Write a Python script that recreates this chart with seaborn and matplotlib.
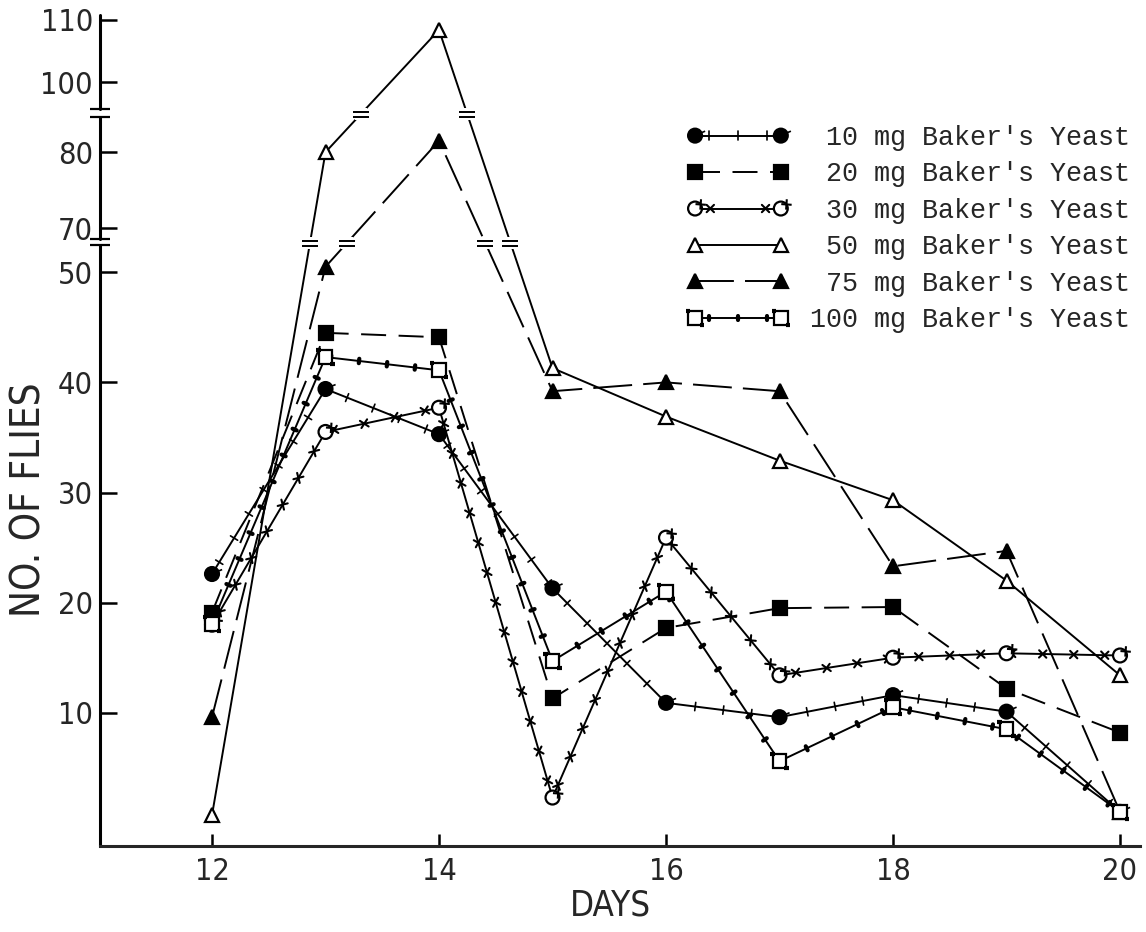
import numpy as np
import pandas as pd
import seaborn as sns
import matplotlib.pyplot as plt
import matplotlib.patheffects as pe
from matplotlib.path import Path

days = [12, 13, 14, 15, 16, 17, 18, 19, 20]
yeast_10 = [22.6, 39.4, 35.3, 21.3, 10.9, 9.6, 11.6, 10.1, 1.0]
yeast_20 = [19.1, 44.5, 44.1, 11.3, 17.7, 19.5, 19.6, 12.2, 8.2]
yeast_30 = [18.0, 35.5, 37.7, 2.3, 25.9, 13.4, 15.0, 15.4, 15.2]
yeast_50 = [0.7, 80.0, 108.4, 41.3, 36.9, 32.9, 29.3, 22.0, 13.4]
yeast_75 = [9.6, 50.5, 81.5, 39.2, 40.0, 39.2, 23.3, 24.7, 1.0]
yeast_100 = [18.1, 42.3, 41.1, 14.7, 21.0, 5.6, 10.5, 8.5, 1.0]
labels = [" 10 mg Baker's Yeast", " 20 mg Baker's Yeast", " 30 mg Baker's Yeast",
          " 50 mg Baker's Yeast", " 75 mg Baker's Yeast", "100 mg Baker's Yeast"]
x_ticks = [12, 14, 16, 18, 20]
y_ticks = [10, 20, 30, 40, 50, 70, 80, 100, 110]

sns.set_style("ticks")
plt.rcParams['font.family'] = ['DejaVu Sans']
plt.rcParams['font.stretch'] = 'condensed'
plt.rcParams['lines.scale_dashes'] = False

# broken y axis: piecewise linear scale (value -> pixel row in the scan)
knot_v = np.array([-1000, -2.1, 52.5, 68.4, 85.0, 95.0, 110.8, 1000])
knot_p = np.array([822 + 11000, 845.1, 244.5, 240.2, 114.0, 113.0, 15.0, 20 - 6.2 * 890])


def forward(v):
    return -np.interp(v, knot_v, knot_p)


def inverse(p):
    return np.interp(p, -knot_p, knot_v)


fig = plt.figure(figsize=(11.46, 9.32), dpi=100)
ax = fig.add_axes([100 / 1146, 1 - 846 / 932, 1040 / 1146, 831 / 932])
ax.set_yscale('function', functions=(forward, inverse))

# small marks along some of the lines
ticks_10 = [pe.Normal(),
            pe.TickedStroke(spacing=20, angle=90, length=0.15, linewidth=1.2),
            pe.TickedStroke(spacing=20, angle=-90, length=0.15, linewidth=1.2)]
ticks_30 = [pe.Normal()] + [pe.TickedStroke(spacing=22, angle=a, length=0.17, linewidth=1.5)
                            for a in (45, -135, 135, -45)]
dots_100 = [pe.Normal(),
            pe.TickedStroke(spacing=20, angle=90, length=0.08, linewidth=3),
            pe.TickedStroke(spacing=20, angle=-90, length=0.08, linewidth=3)]

series = [
    (yeast_10, dict(marker='o', markerfacecolor='black', linestyle='-', path_effects=ticks_10)),
    (yeast_20, dict(marker='s', markerfacecolor='black', linestyle=(0, (18, 9)))),
    (yeast_30, dict(marker='o', markerfacecolor='white', linestyle='-', path_effects=ticks_30)),
    (yeast_50, dict(marker='^', markerfacecolor='white', linestyle='-')),
    (yeast_75, dict(marker='^', markerfacecolor='black', linestyle=(0, (28, 8)))),
    (yeast_100, dict(marker='s', markerfacecolor='white', linestyle='-', path_effects=dots_100)),
]

for (vals, style), lab in zip(series, labels):
    df = pd.DataFrame({'Day': days, 'Flies': vals})
    sns.lineplot(x='Day', y='Flies', data=df, ax=ax, color='black', linewidth=1.4,
                 markersize=10, markeredgecolor='black', markeredgewidth=1.6,
                 label=lab, **style)

ax.set_xlim(12 - 112 / 113.5, 12 + 928 / 113.5)
ax.set_ylim(-2.1, 110.8)
ax.set_xticks(x_ticks)
ax.set_yticks(y_ticks)
ax.set_xlabel('')
ax.set_ylabel('')
ax.tick_params(axis='both', direction='in', labelsize=22, width=1.8, color='black')
ax.tick_params(axis='x', length=9, pad=8)
ax.tick_params(axis='y', length=12, pad=5)

sns.despine(ax=ax, top=True, right=True, left=True)
ax.spines['bottom'].set_linewidth(2.2)

# break symbol: two short bars
brk = Path([(-1, 0.3), (1, 0.3), (-1, -0.3), (1, -0.3)],
           [Path.MOVETO, Path.LINETO, Path.MOVETO, Path.LINETO])

# left axis drawn in pieces, with the breaks
ytr = ax.get_yaxis_transform()
for lo, hi in [(-2.1, 52.6), (68.6, 84.6), (95.6, 110.8)]:
    ax.plot([0, 0], [lo, hi], transform=ytr, color='black', linewidth=2.2, clip_on=False)
    for end in (lo, hi):
        if -2 < end < 110:
            ax.plot([0], [end], transform=ytr, marker='_', markersize=14, markeredgewidth=1.6,
                    color='black', clip_on=False)

# break marks where the 50 and 75 mg lines cross the gaps of the axis
for vals in (yeast_50, yeast_75):
    for i in range(len(days) - 1):
        y0, y1 = vals[i], vals[i + 1]
        for c in (60.0, 90.0):
            if min(y0, y1) < c < max(y0, y1):
                t = (forward(c) - forward(y0)) / (forward(y1) - forward(y0))
                xc = days[i] + t * (days[i + 1] - days[i])
                ax.plot([xc], [c], marker='s', markersize=8, color='white',
                        markeredgewidth=0, zorder=5)
                ax.plot([xc], [c], marker=brk, markersize=12, markeredgewidth=1.4,
                        color='black', zorder=6)

fig.text(30 / 1146, 1 - 500 / 932, 'NO. OF FLIES', rotation=90, fontsize=29,
         ha='center', va='center')
fig.text(610 / 1146, 1 - 906 / 932, 'DAYS', fontsize=25, ha='center', va='center')

leg = ax.legend(loc='upper left', bbox_to_anchor=(687 / 1146, 1 - 125 / 932),
                bbox_transform=fig.transFigure, frameon=False, numpoints=2,
                handlelength=3.8, handletextpad=0.8, labelspacing=0.39, borderpad=0,
                borderaxespad=0, prop={'family': 'Liberation Mono', 'size': 19.3})

fig.savefig('out.png', dpi=100, facecolor='white')
